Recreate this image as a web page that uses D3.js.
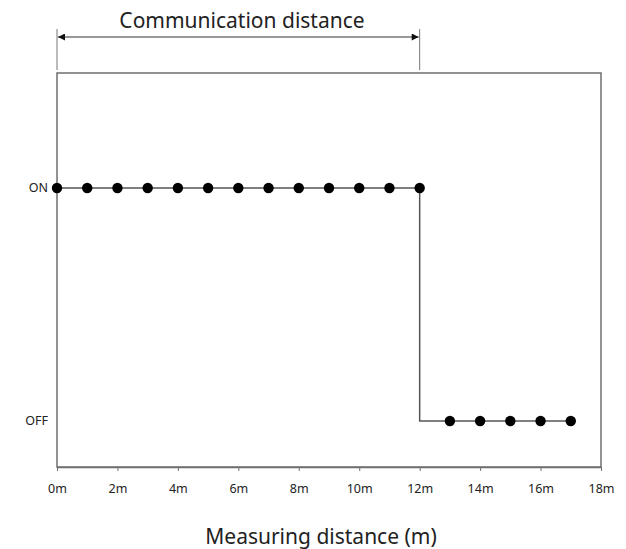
<!DOCTYPE html>
<html>
<head>
<meta charset="utf-8">
<script src="https://cdn.jsdelivr.net/npm/d3@7"></script>
<style>
  body { margin: 0; background: #fff; }
  text { font-family: "Noto Sans", "Open Sans", sans-serif; fill: #222; }
</style>
</head>
<body>
<svg id="chart" width="626" height="549"></svg>
<script>
// measured distances (m) and link state
var distances = [0, 1, 2, 3, 4, 5, 6, 7, 8, 9, 10, 11, 12, 13, 14, 15, 16, 17];
var states    = [1, 1, 1, 1, 1, 1, 1, 1, 1, 1, 1,  1,  1,  0,  0,  0,  0,  0];
var xTicks = [0, 2, 4, 6, 8, 10, 12, 14, 16, 18];
var stateLabels = ['OFF', 'ON'];
var commRange = [0, 12];

var svg = d3.select('#chart');

var x = d3.scaleLinear().domain([0, 18]).range([57, 601]);
var y = d3.scaleLinear().domain([0, 1]).range([421, 188]);
var plotTop = 73, plotBottom = 467;

var points = distances.map(function(d, i) { return {d: d, s: states[i]}; });

// frame
svg.append('rect')
    .attr('x', x(0)).attr('y', plotTop)
    .attr('width', x(18) - x(0)).attr('height', plotBottom - plotTop)
    .attr('fill', 'none').attr('stroke', '#6f6f6f').attr('stroke-width', 1.5);

// x axis
var xAxis = d3.axisBottom(x)
    .tickValues(xTicks)
    .tickSize(4)
    .tickSizeOuter(0)
    .tickFormat(function(d) { return d + 'm'; });

var gx = svg.append('g')
    .attr('transform', 'translate(0,' + plotBottom + ')')
    .call(xAxis);
gx.select('.domain').attr('stroke', '#6f6f6f').attr('stroke-width', 1.5);
gx.selectAll('.tick line').attr('stroke', '#6f6f6f');
gx.selectAll('.tick text')
    .attr('dy', '1.5em')
    .style('font-size', '12.5px')
    .style('font-family', '"Noto Sans", sans-serif')
    .attr('fill', '#222');

// y labels
svg.selectAll('.ylab')
    .data(stateLabels)
    .enter()
    .append('text')
    .attr('class', 'ylab')
    .attr('x', 48)
    .attr('y', function(d, i) { return y(i); })
    .attr('dy', '0.35em')
    .attr('text-anchor', 'end')
    .style('font-size', '12.5px')
    .text(function(d) { return d; });

// line
var line = d3.line()
    .x(function(p) { return x(p.d); })
    .y(function(p) { return y(p.s); })
    .curve(d3.curveStepBefore);

svg.append('path')
    .datum(points)
    .attr('d', line)
    .attr('fill', 'none')
    .attr('stroke', '#555')
    .attr('stroke-width', 1.5);

svg.selectAll('.dot')
    .data(points)
    .enter()
    .append('circle')
    .attr('class', 'dot')
    .attr('cx', function(p) { return x(p.d); })
    .attr('cy', function(p) { return y(p.s); })
    .attr('r', 5.2)
    .attr('fill', '#000');

// communication distance marker
var defs = svg.append('defs');
defs.append('marker')
    .attr('id', 'arr')
    .attr('viewBox', '0 0 10 10')
    .attr('refX', 10).attr('refY', 5)
    .attr('markerWidth', 9).attr('markerHeight', 7)
    .attr('markerUnits', 'userSpaceOnUse')
    .attr('orient', 'auto-start-reverse')
    .append('path')
    .attr('d', 'M0,0L10,5L0,10Z')
    .attr('fill', '#111');

svg.selectAll('.vmark')
    .data(commRange)
    .enter()
    .append('line')
    .attr('x1', function(d) { return x(d); })
    .attr('x2', function(d) { return x(d); })
    .attr('y1', 29).attr('y2', 70)
    .attr('stroke', '#777')
    .attr('stroke-width', 1);

svg.append('line')
    .attr('x1', x(commRange[0]) + 1).attr('x2', x(commRange[1]) - 1)
    .attr('y1', 37).attr('y2', 37)
    .attr('stroke', '#333')
    .attr('stroke-width', 1.2)
    .attr('marker-start', 'url(#arr)')
    .attr('marker-end', 'url(#arr)');

svg.append('text')
    .attr('x', 242).attr('y', 28)
    .attr('text-anchor', 'middle')
    .style('font-size', '21px')
    .text('Communication distance');

svg.append('text')
    .attr('x', 321).attr('y', 544)
    .attr('text-anchor', 'middle')
    .style('font-size', '21px')
    .text('Measuring distance (m)');
</script>
</body>
</html>
